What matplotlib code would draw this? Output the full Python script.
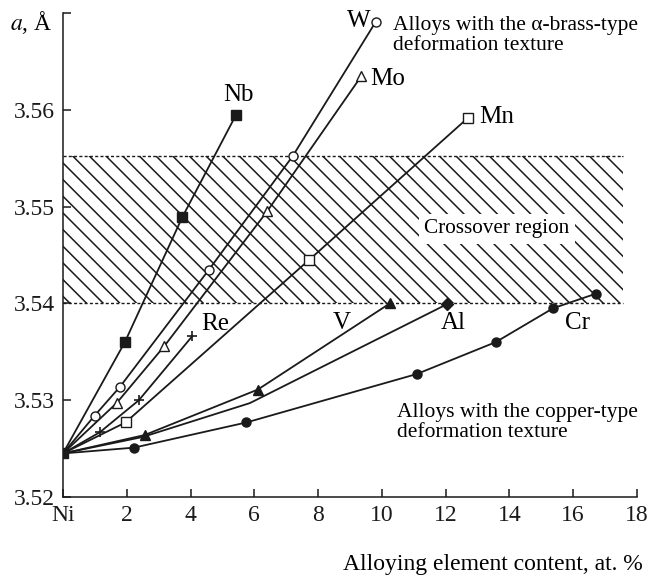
import matplotlib
matplotlib.use("Agg")
import matplotlib.pyplot as plt
from matplotlib.patches import Rectangle

plt.rcParams['font.family'] = ['Liberation Serif', 'DejaVu Serif']
plt.rcParams['mathtext.fontset'] = 'stix'
plt.rcParams['hatch.linewidth'] = 1.1

# lattice parameter of Ni-based alloys (x: at. %, y: angstrom)
ni_x, ni_y = 0.0, 3.5245

w_x = [0, 0.99, 1.79, 4.58, 7.20, 9.81]
w_y = [3.5245, 3.5284, 3.5314, 3.5435, 3.5552, 3.5691]
mo_x = [0, 1.68, 3.18, 6.40, 9.36]
mo_y = [3.5245, 3.5297, 3.5356, 3.5495, 3.5635]
nb_x = [0, 1.94, 3.74, 5.43]
nb_y = [3.5245, 3.5360, 3.5489, 3.5595]
mn_x = [0, 1.96, 7.72, 12.71]
mn_y = [3.5245, 3.5277, 3.5445, 3.5592]
re_x = [0, 1.16, 2.38, 4.05]
re_y = [3.5245, 3.5267, 3.5300, 3.5366]
v_x = [0, 2.56, 6.11, 10.25]
v_y = [3.5245, 3.5264, 3.5311, 3.5400]
al_x = [0, 2.5, 5.86, 12.03]
al_y = [3.5245, 3.5262, 3.5297, 3.5399]
al_marked = [12.03]
cr_x = [0, 2.23, 5.75, 11.09, 13.57, 15.37, 16.71]
cr_y = [3.5245, 3.5251, 3.5277, 3.5327, 3.5360, 3.5395, 3.5410]

crossover_lo, crossover_hi, crossover_end = 3.540, 3.5552, 17.55

x_ticks = [0, 2, 4, 6, 8, 10, 12, 14, 16, 18]
x_labels = ['Ni', '2', '4', '6', '8', '10', '12', '14', '16', '18']
y_ticks = [3.52, 3.53, 3.54, 3.55, 3.56, 3.57]
y_labels = ['3.52', '3.53', '3.54', '3.55', '3.56', '']

ink = '#1a1a1a'

fig = plt.figure(figsize=(6.5, 5.77), dpi=100)
ax = fig.add_axes([63/650, 80/577, 574/650, 484/577])

# hatched crossover band with dotted borders
ax.add_patch(Rectangle((0, crossover_lo), crossover_end, crossover_hi - crossover_lo,
                       facecolor='none', edgecolor=ink, hatch='\\\\', linewidth=0, zorder=1))
for yb in (crossover_lo, crossover_hi):
    ax.plot([0, crossover_end], [yb, yb], color=ink, lw=1.0, ls=(0, (2.2, 1.6)), zorder=2)
ax.text(13.6, 3.5477, 'Crossover region', fontsize=15.3, ha='center', va='center',
        bbox=dict(facecolor='white', edgecolor='none', pad=4), zorder=3)

lw = 1.3
series = [
    (w_x, w_y, dict(marker='o', mfc='white', ms=6.5)),
    (mo_x, mo_y, dict(marker='^', mfc='white', ms=7)),
    (nb_x, nb_y, dict(marker='s', mfc=ink, ms=6.5)),
    (mn_x, mn_y, dict(marker='s', mfc='white', ms=6.5)),
    (re_x, re_y, dict(marker='+', mfc=ink, ms=7.5, mew=1.2)),
    (v_x, v_y, dict(marker='^', mfc=ink, ms=7)),
    (cr_x, cr_y, dict(marker='o', mfc=ink, ms=6.5)),
]
for xs, ys, mk in series:
    ax.plot(xs, ys, color=ink, lw=lw, zorder=4)
    ax.plot(xs[1:], ys[1:], ls='none', color=ink, mec=ink, mew=mk.pop('mew', 1.0),
            zorder=5, **mk)

ax.plot(al_x, al_y, color=ink, lw=lw, zorder=4)
ax.plot(al_marked, [al_y[-1]], ls='none', marker='D', color=ink, ms=6, zorder=5)

ax.plot([ni_x], [ni_y], ls='none', marker='s', color=ink, ms=7, zorder=6)

# element labels
lab = dict(fontsize=18, ha='center', va='center', zorder=6)
ax.text(5.49, 3.5615, 'Nb', **lab)
ax.text(9.28, 3.5692, 'W', **lab)
ax.text(10.19, 3.5632, 'Mo', **lab)
ax.text(13.6, 3.5593, 'Mn', **lab)
ax.text(4.76, 3.5379, 'Re', **lab)
ax.text(8.75, 3.5380, 'V', **lab)
ax.text(12.23, 3.5380, 'Al', **lab)
ax.text(16.14, 3.5380, 'Cr', **lab)

ax.text(10.34, 3.5677, 'Alloys with the \u03b1-brass-type\ndeformation texture',
        fontsize=15.5, ha='left', va='center', linespacing=1.05)
ax.text(10.47, 3.5277, 'Alloys with the copper-type\ndeformation texture',
        fontsize=15.5, ha='left', va='center', linespacing=1.05)

ax.set_xlim(0, 18)
ax.set_ylim(3.52, 3.57)
ax.set_xticks(x_ticks)
ax.set_xticklabels(x_labels)
ax.set_yticks(y_ticks)
ax.set_yticklabels(y_labels)
ax.tick_params(direction='in', length=6, width=1.1, labelsize=17, colors=ink, pad=6)

for side in ('top', 'right'):
    ax.spines[side].set_visible(False)
for side in ('left', 'bottom'):
    ax.spines[side].set_linewidth(1.1)
    ax.spines[side].set_color(ink)

ax.set_xlabel('Alloying element content, at. %', fontsize=17, loc='right')
ax.xaxis.set_label_coords(1.0105, -0.118)
fig.text(10/650, 1 - 23/577, '$a$, Å', fontsize=17, ha='left', va='center')

fig.savefig('out.png', dpi=100)
